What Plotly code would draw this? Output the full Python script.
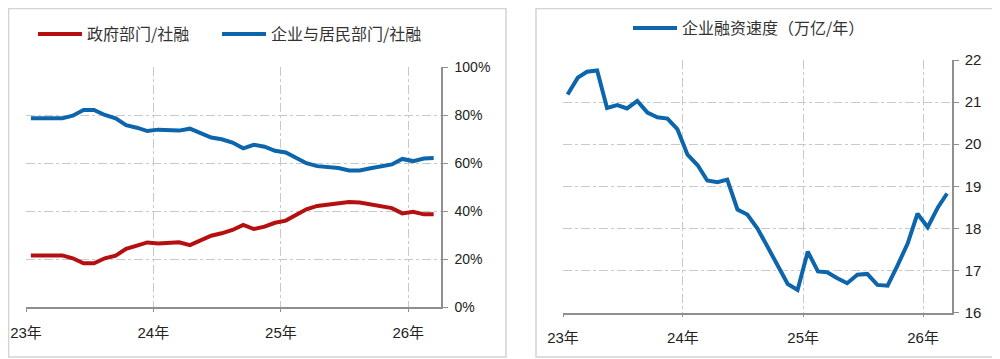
import plotly.graph_objects as go

# ---- data (monthly, Jan 2023 - Mar 2026) ----
months = [f"{2023 + i // 12}-{i % 12 + 1:02d}-15" for i in range(39)]

gov_share = [21.5, 21.5, 21.5, 21.5, 20.3, 18.2, 18.2, 20.3, 21.4, 24.2,
             25.6, 26.9, 26.5, 26.8, 27.0, 25.8, 27.9, 29.7, 30.7, 32.1,
             34.2, 32.5, 33.5, 35.1, 36.0, 38.6, 40.7, 42.1, 42.5, 42.9,
             43.7, 43.5, 42.8, 41.8, 41.2, 39.0, 39.7, 38.6, 38.6]

corp_share = [78.6, 78.6, 78.6, 78.6, 79.7, 82.1, 82.1, 80.0, 78.6, 75.8,
              74.7, 73.3, 73.9, 73.7, 73.5, 74.3, 72.4, 70.6, 69.9, 68.5,
              66.1, 67.6, 66.8, 65.1, 64.4, 61.9, 59.9, 58.7, 58.3, 57.9,
              56.9, 56.9, 57.8, 58.7, 59.4, 61.7, 60.8, 61.9, 62.1]

corp_speed = [21.18, 21.58, 21.72, 21.75, 20.86, 20.93, 20.85, 21.03, 20.75, 20.64,
              20.61, 20.36, 19.75, 19.50, 19.14, 19.10, 19.16, 18.45, 18.33, 18.00,
              17.56, 17.14, 16.68, 16.54, 17.45, 16.98, 16.96, 16.82, 16.70, 16.90,
              16.92, 16.66, 16.64, 17.12, 17.64, 18.35, 18.03, 18.50, 18.83]

tick_vals = ["2023-01-01", "2024-01-01", "2025-01-01", "2026-01-01"]
tick_text = ["23年", "24年", "25年", "26年"]

RED = "#B50F0F"
BLUE = "#0D65AC"
GRID = "#c9c9c9"
AXIS = "#8f8f8f"
FONT = "Liberation Sans, Noto Sans CJK SC, sans-serif"
CJK = "Noto Sans CJK SC, sans-serif"

# page body has an 8px default margin -> figure sits at (8, 8) in the window
OFF = 8.0
W = 1000.0 - OFF
H = 359.0 - OFF


def px(X):
    return (X - OFF) / W


def py(Y):
    return (359.0 - Y) / H


fig = go.Figure()

fig.add_trace(go.Scatter(x=months, y=gov_share, name="政府部门/社融", mode="lines",
                         line=dict(color=RED, width=4), xaxis="x", yaxis="y",
                         legend="legend2", showlegend=True))
fig.add_trace(go.Scatter(x=months, y=corp_share, name="企业与居民部门/社融", mode="lines",
                         line=dict(color=BLUE, width=4), xaxis="x", yaxis="y",
                         legend="legend3", showlegend=True))
fig.add_trace(go.Scatter(x=months, y=corp_speed, name="企业融资速度（万亿/年）", mode="lines",
                         line=dict(color=BLUE, width=4), xaxis="x2", yaxis="y2",
                         legend="legend4", showlegend=True))

xcommon = dict(type="date", tickvals=tick_vals, ticktext=tick_text,
               showgrid=True, gridcolor=GRID, griddash="dashdot", gridwidth=1,
               showline=True, linecolor=AXIS, linewidth=1.5,
               ticks="outside", ticklen=3, tickcolor=AXIS,
               tickfont=dict(family=FONT, size=15, color="#222"),
               ticklabelstandoff=8, zeroline=False, fixedrange=True, automargin=False)
ycommon = dict(side="right", showgrid=True, gridcolor=GRID, griddash="dashdot", gridwidth=1,
               showline=True, linecolor=AXIS, linewidth=1.5,
               ticks="outside", ticklen=5, tickcolor=AXIS,
               zeroline=False, fixedrange=True, automargin=False)

legfont = dict(family=CJK, size=16, color="#333")

fig.update_layout(
    width=int(W), height=int(H),
    showlegend=True,
    margin=dict(l=0, r=0, t=0, b=0, autoexpand=False),
    paper_bgcolor="white", plot_bgcolor="white",
    xaxis=dict(domain=[px(26), px(441)], range=["2023-01-01", "2026-04-05"],
               anchor="y", **xcommon),
    yaxis=dict(domain=[py(307), py(67)], range=[0, 100], dtick=20,
               ticksuffix="%", anchor="x",
               tickfont=dict(family=FONT, size=14, color="#222"),
               ticklabelstandoff=4, **ycommon),
    xaxis2=dict(domain=[px(563), px(952)], range=["2023-01-01", "2026-03-30"],
                anchor="y2", **xcommon),
    yaxis2=dict(domain=[py(312.7), py(60)], range=[16, 22], dtick=1,
                anchor="x2",
                tickfont=dict(family=FONT, size=15, color="#222"),
                ticklabelstandoff=3, **ycommon),
    legend2=dict(orientation="h", x=px(33), xanchor="left", y=py(34), yanchor="middle",
                 font=legfont, bgcolor="rgba(0,0,0,0)", itemwidth=44, visible=True),
    legend3=dict(orientation="h", x=px(217), xanchor="left", y=py(34), yanchor="middle",
                 font=legfont, bgcolor="rgba(0,0,0,0)", itemwidth=44, visible=True),
    legend4=dict(orientation="h", x=px(628), xanchor="left", y=py(28), yanchor="middle",
                 font=legfont, bgcolor="rgba(0,0,0,0)", itemwidth=44, visible=True),
    shapes=[
        dict(type="rect", xref="paper", yref="paper", x0=0.6 / W, x1=px(506),
             y0=py(357), y1=(H - 0.6) / H, line=dict(color="#d4d4d4", width=1.5)),
        dict(type="rect", xref="paper", yref="paper", x0=px(536), x1=px(998),
             y0=py(357), y1=(H - 0.6) / H, line=dict(color="#d4d4d4", width=1.5)),
    ],
)

fig.write_html("out.html")
